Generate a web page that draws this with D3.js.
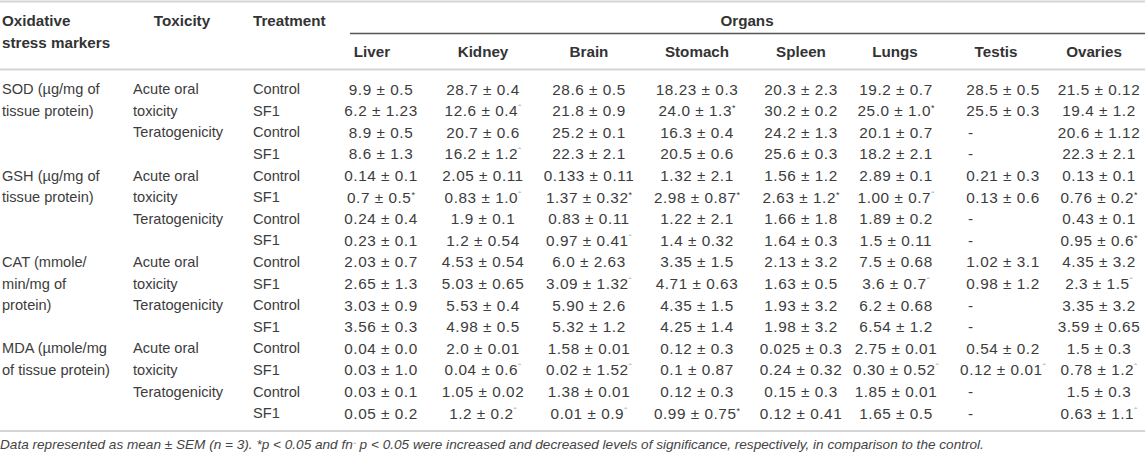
<!DOCTYPE html>
<html><head><meta charset="utf-8">
<script src="https://cdn.jsdelivr.net/npm/d3@7"></script>
<style>
body{margin:0;background:#fff;}
svg{display:block;font-family:"Liberation Sans",Arial,sans-serif;}
</style></head>
<body>
<svg id="c" width="1145" height="456"></svg>
<script>
// ---- data ----
const organs = ["Liver","Kidney","Brain","Stomach","Spleen","Lungs","Testis","Ovaries"];
const markers = [["SOD (µg/mg of","tissue protein)"],["GSH (µg/mg of","tissue protein)"],["CAT (mmole/","min/mg of","protein)"],["MDA (µmole/mg","of tissue protein)"]];
const toxicityLabels = ["Acute oral","toxicity","Teratogenicity"];
const treatments = ["Control","SF1","Control","SF1"];
// "*" = increased, "^" = decreased significance
const sodValues = [
 ["9.9 ± 0.5","28.7 ± 0.4","28.6 ± 0.5","18.23 ± 0.3","20.3 ± 2.3","19.2 ± 0.7","28.5 ± 0.5","21.5 ± 0.12"],
 ["6.2 ± 1.23","12.6 ± 0.4^","21.8 ± 0.9","24.0 ± 1.3*","30.2 ± 0.2","25.0 ± 1.0*","25.5 ± 0.3","19.4 ± 1.2"],
 ["8.9 ± 0.5","20.7 ± 0.6","25.2 ± 0.1","16.3 ± 0.4","24.2 ± 1.3","20.1 ± 0.7","-","20.6 ± 1.12"],
 ["8.6 ± 1.3","16.2 ± 1.2^","22.3 ± 2.1","20.5 ± 0.6","25.6 ± 0.3","18.2 ± 2.1","-","22.3 ± 2.1"]];
const gshValues = [
 ["0.14 ± 0.1","2.05 ± 0.11","0.133 ± 0.11","1.32 ± 2.1","1.56 ± 1.2","2.89 ± 0.1","0.21 ± 0.3","0.13 ± 0.1"],
 ["0.7 ± 0.5*","0.83 ± 1.0^","1.37 ± 0.32*","2.98 ± 0.87*","2.63 ± 1.2*","1.00 ± 0.7^","0.13 ± 0.6","0.76 ± 0.2*"],
 ["0.24 ± 0.4","1.9 ± 0.1","0.83 ± 0.11","1.22 ± 2.1","1.66 ± 1.8","1.89 ± 0.2","-","0.43 ± 0.1"],
 ["0.23 ± 0.1","1.2 ± 0.54","0.97 ± 0.41^","1.4 ± 0.32","1.64 ± 0.3","1.5 ± 0.11","-","0.95 ± 0.6*"]];
const catValues = [
 ["2.03 ± 0.7","4.53 ± 0.54","6.0 ± 2.63","3.35 ± 1.5","2.13 ± 3.2","7.5 ± 0.68","1.02 ± 3.1","4.35 ± 3.2"],
 ["2.65 ± 1.3","5.03 ± 0.65","3.09 ± 1.32^","4.71 ± 0.63","1.63 ± 0.5","3.6 ± 0.7^","0.98 ± 1.2","2.3 ± 1.5^"],
 ["3.03 ± 0.9","5.53 ± 0.4","5.90 ± 2.6","4.35 ± 1.5","1.93 ± 3.2","6.2 ± 0.68","-","3.35 ± 3.2"],
 ["3.56 ± 0.3","4.98 ± 0.5","5.32 ± 1.2","4.25 ± 1.4","1.98 ± 3.2","6.54 ± 1.2","-","3.59 ± 0.65"]];
const mdaValues = [
 ["0.04 ± 0.0","2.0 ± 0.01","1.58 ± 0.01","0.12 ± 0.3","0.025 ± 0.3","2.75 ± 0.01","0.54 ± 0.2","1.5 ± 0.3"],
 ["0.03 ± 1.0","0.04 ± 0.6^","0.02 ± 1.52^","0.1 ± 0.87","0.24 ± 0.32","0.30 ± 0.52^","0.12 ± 0.01^","0.78 ± 1.2^"],
 ["0.03 ± 0.1","1.05 ± 0.02","1.38 ± 0.01","0.12 ± 0.3","0.15 ± 0.3","1.85 ± 0.01","-","1.5 ± 0.3"],
 ["0.05 ± 0.2","1.2 ± 0.2^","0.01 ± 0.9^","0.99 ± 0.75*","0.12 ± 0.41","1.65 ± 0.5","-","0.63 ± 1.1^"]];
const footnote = "Data represented as mean ± SEM (n = 3). *p < 0.05 and ";
const footnote2 = " p < 0.05 were increased and decreased levels of significance, respectively, in comparison to the control.";

// ---- layout ----
const svg = d3.select("#c");
const groups = [sodValues, gshValues, catValues, mdaValues];
const rows = [];
groups.forEach((g,gi)=>g.forEach((r,ri)=>rows.push({g:gi,r:ri,vals:r})));

const yRow = d3.scaleLinear().domain([0,15]).range([89,413]);
const valueX = d3.scaleOrdinal().domain(organs).range([381,483,589,697,801,896,1003,1099]);
const headX = d3.scaleOrdinal().domain(organs).range([372,483,589,697,801,895,996,1094]);
const colX = {marker:2, tox:133, treat:253};
const txt = "#3c3c3c";
const fs = 14.6;

// lines
const lines = [
 {x1:0,x2:1145,y:1.5,c:"#d4d4d4",w:2},
 {x1:350,x2:1145,y:33.5,c:"#555",w:1.3},
 {x1:0,x2:1145,y:69.5,c:"#d4d4d4",w:2},
 {x1:0,x2:1145,y:431,c:"#d4d4d4",w:2}];
svg.selectAll("line.rule").data(lines).join("line").attr("class","rule")
 .attr("x1",d=>d.x1).attr("x2",d=>d.x2).attr("y1",d=>d.y).attr("y2",d=>d.y)
 .attr("stroke",d=>d.c).attr("stroke-width",d=>d.w);

// header
const hdr = [
 {t:"Oxidative",x:2,y:21,a:"start"},
 {t:"stress markers",x:2,y:43,a:"start"},
 {t:"Toxicity",x:182,y:21,a:"middle"},
 {t:"Treatment",x:253,y:21,a:"start"},
 {t:"Organs",x:747,y:21,a:"middle"}];
svg.selectAll("text.hdr").data(hdr).join("text").attr("class","hdr")
 .attr("x",d=>d.x).attr("y",d=>d.y).attr("dy","0.36em").attr("text-anchor",d=>d.a)
 .attr("font-size",15.2).attr("font-weight","bold").attr("fill","#333").text(d=>d.t);
svg.selectAll("text.org").data(organs).join("text").attr("class","org")
 .attr("x",d=>headX(d)).attr("y",52).attr("dy","0.36em").attr("text-anchor","middle")
 .attr("font-size",15.2).attr("font-weight","bold").attr("fill","#333").text(d=>d);

// left label columns
const leftCells = [];
markers.forEach((m,gi)=>m.forEach((t,li)=>leftCells.push({t,x:colX.marker,row:gi*4+li})));
groups.forEach((g,gi)=>toxicityLabels.forEach((t,li)=>leftCells.push({t,x:colX.tox,row:gi*4+li})));
rows.forEach((d,i)=>leftCells.push({t:treatments[d.r],x:colX.treat,row:i}));
svg.selectAll("text.left").data(leftCells).join("text").attr("class","left")
 .attr("x",d=>d.x).attr("y",d=>yRow(d.row)).attr("dy","0.36em")
 .attr("font-size",fs).attr("fill",txt).text(d=>d.t);

// value cells
const cells = [];
rows.forEach((d,i)=>d.vals.forEach((v,j)=>{
  let mark = "";
  if (v.endsWith("*")||v.endsWith("^")) { mark = v.slice(-1); v = v.slice(0,-1); }
  cells.push({v,mark,organ:organs[j],row:i});
}));
const ct = svg.selectAll("text.val").data(cells).join("text").attr("class","val")
 .attr("x",d=>d.v==="-"?968:valueX(d.organ)).attr("y",d=>yRow(d.row)).attr("dy","0.36em")
 .attr("text-anchor",d=>d.v==="-"?"start":"middle")
 .attr("font-size",15.3).attr("letter-spacing",0.55).attr("fill",txt);
ct.append("tspan").text(d=>d.v);
ct.filter(d=>d.mark==="*").append("tspan").attr("font-size",9).attr("letter-spacing",0).attr("dy",-5).text("*");
ct.filter(d=>d.mark==="^").append("tspan").attr("font-size",10).attr("letter-spacing",0).attr("dy",-3).attr("fill","#aaa").text("ˆ");

// footnote
const fn = svg.append("text").attr("x",0).attr("y",444).attr("dy","0.36em")
 .attr("font-size",13.6).attr("font-style","italic").attr("fill","#444");
fn.append("tspan").text(footnote);
fn.append("tspan").text("fn");
fn.append("tspan").attr("font-size",9).attr("fill","#aaa").text("ˆ");
fn.append("tspan").text(footnote2);
</script>
</body></html>
